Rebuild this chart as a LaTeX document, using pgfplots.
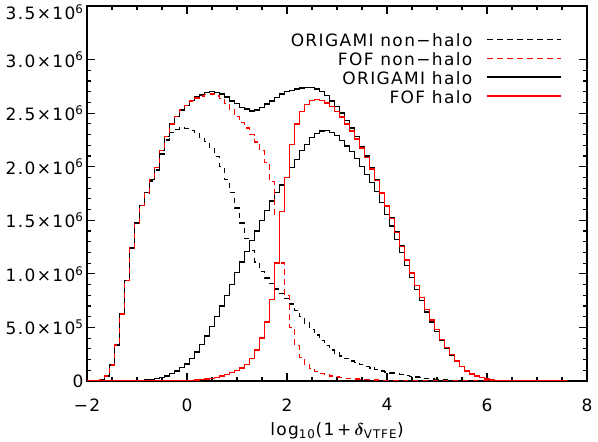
\documentclass[border=0pt]{standalone}
\usepackage{amsmath}
\usepackage{pgfplots}
\pgfplotsset{compat=1.18}
\usepackage{pgfplotstable}
\usepackage{fontspec}
\setmainfont[LetterSpace=8]{DejaVu Sans}

% histogram counts in units of 10^6, bin centres
% x  total  orinh  fofnh  orih  fofh
\pgfplotstableread{
x    tot    onh    fnh    oh     fh
-2.0 0      0      0      0      0
-1.9 0      0      0      0      0
-1.8 0.004  0.004  0.004  0      0
-1.7 0.016  0.016  0.016  0      0
-1.6 0.045  0.045  0.045  0      0
-1.5 0.15   0.15   0.15   0      0
-1.4 0.335  0.335  0.335  0      0
-1.3 0.625  0.625  0.625  0      0
-1.2 0.94   0.94   0.94   0      0
-1.1 1.24   1.24   1.24   0      0
-1.0 1.475  1.473  1.475  0.002  0
-0.9 1.64   1.636  1.64   0.004  0
-0.8 1.76   1.752  1.76   0.008  0
-0.7 1.88   1.866  1.88   0.014  0
-0.6 1.99   1.968  1.99   0.022  0
-0.5 2.15   2.12   2.15   0.033  0
-0.4 2.28   2.25   2.28   0.048  0
-0.3 2.40   2.32   2.40   0.068  0.001
-0.2 2.47   2.35   2.47   0.095  0.001
-0.1 2.53   2.36   2.53   0.125  0.002
0.0  2.57   2.355  2.57   0.16   0.003
0.1  2.62   2.34   2.615  0.21   0.005
0.2  2.65   2.31   2.64   0.27   0.008
0.3  2.67   2.27   2.66   0.34   0.012
0.4  2.69   2.235  2.675  0.42   0.017
0.5  2.70   2.17   2.68   0.51   0.025
0.6  2.69   2.095  2.66   0.60   0.035
0.7  2.68   2.00   2.635  0.70   0.047
0.8  2.65   1.88   2.59   0.80   0.062
0.9  2.615  1.76   2.53   0.90   0.078
1.0  2.59   1.615  2.47   1.01   0.097
1.1  2.555  1.475  2.41   1.11   0.12
1.2  2.54   1.33   2.36   1.21   0.155
1.3  2.52   1.22   2.30   1.31   0.21
1.4  2.53   1.11   2.23   1.40   0.29
1.5  2.555  1.02   2.15   1.50   0.40
1.6  2.585  0.96   2.04   1.59   0.55
1.7  2.615  0.91   1.86   1.68   0.76
1.8  2.645  0.86   1.55   1.76   1.10
1.9  2.68   0.815  1.10   1.83   1.58
2.0  2.70   0.77   0.80   1.90   1.90
2.1  2.71   0.72   0.50   1.99   2.21
2.2  2.725  0.66   0.33   2.07   2.40
2.3  2.735  0.60   0.22   2.15   2.515
2.4  2.74   0.54   0.16   2.21   2.58
2.5  2.74   0.48   0.115  2.27   2.62
2.6  2.725  0.43   0.09   2.31   2.63
2.7  2.70   0.38   0.07   2.335  2.62
2.8  2.665  0.33   0.055  2.34   2.595
2.9  2.615  0.29   0.045  2.32   2.56
3.0  2.56   0.26   0.037  2.29   2.515
3.1  2.50   0.235  0.031  2.245  2.465
3.2  2.43   0.21   0.026  2.195  2.40
3.3  2.36   0.185  0.022  2.14   2.335
3.4  2.28   0.17   0.018  2.075  2.26
3.5  2.19   0.152  0.015  2.00   2.175
3.6  2.10   0.135  0.012  1.93   2.085
3.7  1.99   0.12   0.01   1.85   1.98
3.8  1.88   0.105  0.008  1.77   1.87
3.9  1.76   0.094  0.006  1.665  1.755
4.0  1.64   0.084  0.005  1.555  1.635
4.1  1.52   0.075  0.004  1.445  1.516
4.2  1.39   0.069  0.003  1.32   1.387
4.3  1.26   0.063  0.002  1.197  1.258
4.4  1.13   0.053  0.0015 1.077  1.129
4.5  1.01   0.044  0.001  0.966  1.009
4.6  0.89   0.037  0      0.853  0.89
4.7  0.78   0.031  0      0.749  0.78
4.8  0.67   0.025  0      0.645  0.67
4.9  0.57   0.02   0      0.55   0.57
5.0  0.48   0.016  0      0.464  0.48
5.1  0.39   0.012  0      0.378  0.39
5.2  0.31   0.008  0      0.302  0.31
5.3  0.245  0.005  0      0.24   0.245
5.4  0.185  0.003  0      0.182  0.185
5.5  0.135  0.002  0      0.133  0.135
5.6  0.095  0.001  0      0.094  0.095
5.7  0.065  0      0      0.065  0.065
5.8  0.045  0      0      0.045  0.045
5.9  0.03   0      0      0.03   0.03
6.0  0.019  0      0      0.019  0.019
6.1  0.011  0      0      0.011  0.011
6.2  0.006  0      0      0.006  0.006
6.3  0.003  0      0      0.003  0.003
6.4  0.0015 0      0      0.0015 0.0015
6.5  0      0      0      0      0
7.0  0      0      0      0      0
7.6  0      0      0      0      0
}\hist

\begin{document}
\begin{tikzpicture}
\def\fs{\fontsize{17}{20}\selectfont}
\begin{axis}[
    scale only axis,
    width=500pt, height=375pt,
    xmin=-2, xmax=8, ymin=0, ymax=3.5,
    xtick={-2,0,2,4,6,8},
    xticklabels={−2,0,2,4,6,8},
    minor x tick num=3,
    ytick={0,0.5,1,1.5,2,2.5,3},
    yticklabels={0,
      5.0×10\textsuperscript{5},
      1.0×10\textsuperscript{6},
      1.5×10\textsuperscript{6},
      2.0×10\textsuperscript{6},
      2.5×10\textsuperscript{6},
      3.0×10\textsuperscript{6}},
    extra y ticks={3.5},
    extra y tick labels={3.5×10\textsuperscript{6}},
    extra y tick style={yticklabel style={yshift=-6pt}},
    minor y tick num=4,
    tick pos=both,
    tick align=inside,
    major tick length=8pt,
    minor tick length=4pt,
    every tick/.style={black, line width=1.1pt},
    axis line style={line width=1.3pt},
    ticklabel style={font=\fs},
    xticklabel style={yshift=-14pt},
    xlabel={log\textsubscript{10}(1\,+\,$\boldsymbol{\delta}$\textsubscript{VTFE})},
    xlabel style={font=\fs, at={(axis description cs:0.5,0)}, anchor=center, yshift=-50pt},
    legend style={font=\fs, at={(0.95,0.925)}, anchor=north east, draw=none, fill=none,
      inner sep=0pt, row sep=2.9pt, /tikz/column sep=14pt,
      nodes={inner sep=0pt, text height=12pt, text depth=4pt}},
    legend cell align=right,
    legend plot pos=right,
    legend image code/.code={\draw[#1] (0pt,0.3em) -- (74pt,0.3em);},
    const plot mark mid,
    every axis plot/.append style={line width=1.4pt, mark=none},
]
\addlegendimage{black, dash pattern=on 5.5pt off 4.5pt}
\addlegendentry{ORIGAMI non−halo}
\addlegendimage{red, dash pattern=on 5.5pt off 4.5pt}
\addlegendentry{FOF non−halo}
\addlegendimage{black}
\addlegendentry{ORIGAMI halo}
\addlegendimage{red}
\addlegendentry{FOF halo}

\addplot[black, forget plot] table[x=x, y=tot] {\hist};
\addplot[black, dash pattern=on 5.5pt off 4.5pt, forget plot] table[x=x, y=onh] {\hist};
\addplot[black, forget plot] table[x=x, y=oh] {\hist};
\addplot[red, dash pattern=on 5.5pt off 4.5pt, forget plot] table[x=x, y=fnh] {\hist};
\addplot[red, forget plot] table[x=x, y=fh] {\hist};
\end{axis}
\pgfresetboundingbox
\path (current axis.south west) ++(-87pt,-61pt) rectangle ++(598pt,442pt);
\end{tikzpicture}
\end{document}
